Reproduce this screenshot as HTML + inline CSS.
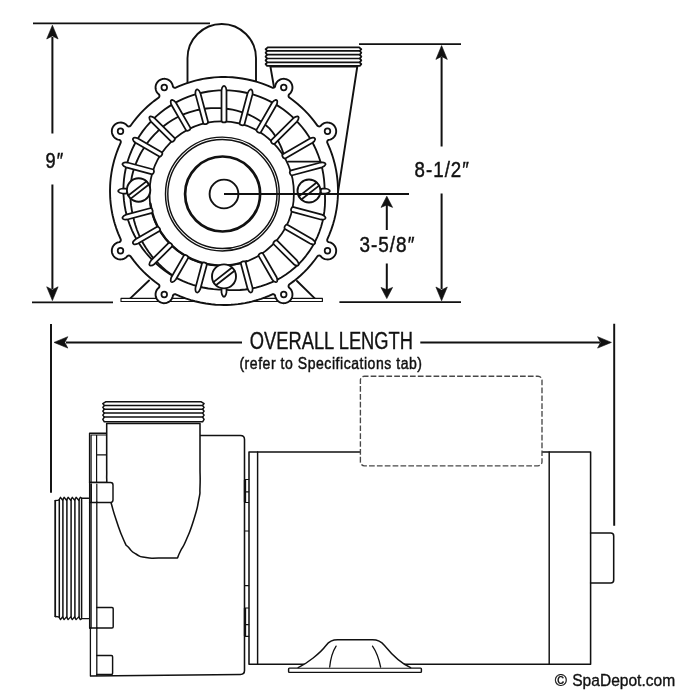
<!DOCTYPE html>
<html lang="en"><head><meta charset="utf-8"><title>Pump dimensions</title>
<style>html,body{margin:0;padding:0;background:#fff}body{width:700px;height:700px;overflow:hidden}svg{display:block;will-change:transform}</style>
</head><body>
<svg width="700" height="700" viewBox="0 0 700 700" font-family="'Liberation Sans', sans-serif" fill="#111">
<rect width="700" height="700" fill="#fff"/>
<g id="front">
<path d="M130,298.6 L149,280.5 M315,298.6 L297,281" fill="none" stroke="#111" stroke-width="1.9" stroke-linecap="round" stroke-linejoin="round"/>
<rect x="121" y="298.4" width="201.4" height="3.1" fill="#fff" stroke="#111" stroke-width="1.15" stroke-linecap="round" stroke-linejoin="round"/>
<path d="M187.5,90 V58.2 A34.25,34.25 0 0 1 256,58.2 V90" fill="#fff" stroke="#111" stroke-width="1.9" stroke-linecap="round" stroke-linejoin="round"/>
<path d="M270.4,66.5 L274.5,90 L338,192 L357.3,66.5 Z" fill="#fff" stroke="#111" stroke-width="1.9" stroke-linecap="round" stroke-linejoin="round"/>
<path d="M358.9,47.3 L361.3,49.1 L359.8,50.9 L361.3,52.8 L359.8,54.7 L361.3,56.6 L359.8,58.5 L361.3,60.4 L359.8,62.3 L361.3,64.1 L359.8,65.9 L267.1,65.9 L265.6,64.1 L267.1,62.3 L265.6,60.4 L267.1,58.5 L265.6,56.6 L267.1,54.7 L265.6,52.8 L267.1,50.9 L265.6,49.1 L268,47.3 Z" fill="#fff" stroke="#111" stroke-width="1.8" stroke-linecap="round" stroke-linejoin="round"/>
<path d="M267.1,50.9 H359.8 M267.1,54.7 H359.8 M267.1,58.5 H359.8 M267.1,62.3 H359.8 " fill="none" stroke="#111" stroke-width="1.7" stroke-linecap="round" stroke-linejoin="round"/>
<path d="M120.64,239.08 L120.82,239.69 L120.82,240.33 L120.54,241.13 L120.15,241.62 L119.43,242.07 L118.01,242.42 L117.16,242.72 L116.39,243.09 L115.35,243.75 L114.65,244.32 L113.77,245.25 L113.06,246.25 L112.63,247.05 L112.18,248.25 L111.91,249.45 L111.82,250.35 L111.85,251.58 L111.98,252.47 L112.31,253.66 L112.66,254.49 L113.26,255.56 L113.8,256.29 L114.65,257.18 L115.35,257.75 L116.39,258.41 L118.01,259.08 L119.21,259.35 L120.11,259.44 L121.34,259.41 L122.18,259.29 L123.06,259.07 L124.21,258.63 L125.67,257.75 L126.37,257.18 L127.51,256.01 L128.26,255.62 L128.89,255.54 L129.51,255.63 L130.08,255.89 L130.41,256.16 L134.12,261.13 L136.77,264.39 L139.54,267.56 L143.39,271.61 L146.42,274.53 L150.6,278.22 L154.97,281.72 L158.69,284.45 L159.11,284.92 L159.37,285.49 L159.45,285.9 L159.38,286.74 L158.99,287.49 L157.82,288.63 L157.25,289.33 L156.59,290.37 L156.22,291.14 L155.92,291.99 L155.65,293.19 L155.56,294.09 L155.6,295.37 L155.8,296.58 L156.2,297.79 L156.77,298.94 L157.51,299.99 L158.12,300.66 L159.09,301.49 L160.17,302.17 L161.29,302.67 L163,303.1 L163.85,303.18 L165.08,303.15 L165.97,303.02 L167.16,302.69 L168.75,301.94 L169.75,301.23 L170.38,300.66 L171.5,299.3 L172.3,297.79 L172.58,296.99 L172.93,295.57 L173.24,295.02 L173.7,294.57 L174.06,294.36 L174.88,294.16 L175.72,294.28 L180.38,296.32 L185.6,298.34 L190.9,300.09 L194.95,301.24 L200.38,302.53 L205.88,303.55 L211.43,304.3 L215.62,304.69 L219.8,304.92 L223.99,305 L226.8,304.97 L230.98,304.79 L233.79,304.58 L237.95,304.14 L240.73,303.77 L244.86,303.08 L248.97,302.23 L251.71,301.58 L255.74,300.49 L258.44,299.67 L261.09,298.8 L265.02,297.36 L268.91,295.78 L272.28,294.28 L272.9,294.16 L273.54,294.22 L273.94,294.36 L274.3,294.57 L274.76,295.02 L275.07,295.57 L275.42,296.99 L275.7,297.79 L276.53,299.35 L277.29,300.31 L277.93,300.95 L278.89,301.71 L279.63,302.15 L280.45,302.54 L281.61,302.92 L282.5,303.1 L283.72,303.19 L284.63,303.14 L285.84,302.94 L286.71,302.67 L287.83,302.17 L288.61,301.71 L289.57,300.95 L290.21,300.31 L291,299.3 L291.6,298.23 L291.95,297.4 L292.28,296.21 L292.41,295.32 L292.44,294.09 L292.35,293.19 L292.08,291.99 L291.78,291.14 L291.41,290.37 L290.75,289.33 L290.18,288.63 L289.01,287.49 L288.62,286.74 L288.54,286.33 L288.58,285.7 L288.79,285.1 L289.16,284.59 L294.13,280.88 L297.39,278.23 L300.56,275.46 L304.61,271.61 L307.53,268.58 L311.22,264.4 L314.72,260.03 L317.45,256.31 L317.92,255.89 L318.29,255.7 L318.9,255.55 L319.53,255.57 L319.94,255.69 L320.49,256.01 L321.63,257.18 L322.63,257.97 L323.75,258.6 L324.94,259.07 L326.66,259.41 L327.89,259.44 L328.79,259.35 L330.04,259.07 L331.23,258.6 L332.3,258 L333.31,257.21 L334.2,256.29 L334.94,255.25 L335.52,254.1 L335.92,252.89 L336.18,251.15 L336.15,249.92 L336.03,249.08 L335.54,247.45 L334.71,245.89 L333.62,244.58 L332.99,244.01 L331.99,243.3 L330.79,242.7 L329.99,242.42 L328.57,242.07 L328.02,241.76 L327.57,241.3 L327.36,240.94 L327.16,240.12 L327.28,239.28 L329.32,234.62 L331.34,229.4 L333.09,224.1 L334.24,220.05 L335.53,214.62 L336.55,209.12 L337.3,203.57 L337.69,199.38 L337.92,195.2 L338,191.01 L337.97,188.2 L337.79,184.02 L337.58,181.21 L337.14,177.05 L336.77,174.27 L336.08,170.14 L335.23,166.03 L334.58,163.29 L333.49,159.26 L332.67,156.56 L331.8,153.91 L330.36,149.98 L328.78,146.09 L327.28,142.72 L327.16,142.1 L327.22,141.46 L327.36,141.06 L327.57,140.7 L328.02,140.24 L328.57,139.93 L329.99,139.58 L330.79,139.3 L332.35,138.47 L333.03,137.96 L333.92,137.11 L334.49,136.41 L335.15,135.37 L335.54,134.55 L335.92,133.39 L336.1,132.5 L336.19,131.28 L336.14,130.37 L335.94,129.16 L335.67,128.29 L335.17,127.17 L334.71,126.39 L333.95,125.43 L333.31,124.79 L332.3,124 L331.23,123.4 L330.4,123.05 L329.21,122.72 L328.32,122.59 L327.09,122.56 L326.19,122.65 L324.99,122.92 L324.14,123.22 L323.37,123.59 L322.33,124.25 L321.63,124.82 L320.49,125.99 L319.74,126.38 L319.11,126.46 L318.7,126.42 L318.1,126.21 L317.59,125.84 L313.88,120.87 L311.23,117.61 L308.46,114.44 L304.61,110.39 L301.58,107.47 L297.4,103.78 L293.03,100.28 L289.31,97.55 L288.89,97.08 L288.63,96.51 L288.55,96.1 L288.57,95.47 L288.69,95.06 L289.01,94.51 L290.18,93.37 L290.97,92.37 L291.6,91.25 L292.07,90.06 L292.41,88.34 L292.44,87.11 L292.35,86.21 L292.07,84.96 L291.6,83.77 L290.97,82.65 L290.18,81.65 L289.29,80.8 L288.25,80.06 L287.1,79.48 L285.89,79.08 L284.2,78.82 L282.45,78.91 L281.25,79.18 L280.45,79.46 L278.89,80.29 L278.21,80.8 L277.32,81.65 L276.3,83.01 L275.7,84.21 L275.42,85.01 L275.07,86.43 L274.76,86.98 L274.47,87.29 L273.94,87.64 L273.12,87.84 L272.28,87.72 L267.62,85.68 L262.4,83.66 L257.1,81.91 L253.05,80.76 L247.62,79.47 L242.12,78.45 L236.57,77.7 L232.38,77.31 L228.2,77.08 L225.39,77.01 L221.21,77.03 L218.4,77.14 L214.23,77.42 L211.43,77.7 L207.28,78.23 L203.14,78.92 L200.38,79.47 L196.31,80.41 L193.59,81.13 L189.56,82.33 L185.6,83.66 L182.98,84.64 L179.09,86.22 L175.72,87.72 L175.1,87.84 L174.67,87.82 L174.06,87.64 L173.7,87.43 L173.24,86.98 L172.93,86.43 L172.58,85.01 L172.3,84.21 L171.47,82.65 L170.71,81.69 L170.07,81.05 L169.11,80.29 L168.37,79.85 L167.55,79.46 L166.39,79.08 L165.5,78.9 L164.28,78.81 L163.37,78.86 L162.16,79.06 L161.29,79.33 L160.17,79.83 L159.09,80.51 L158.39,81.08 L157.54,81.97 L157,82.7 L156.4,83.77 L156.05,84.6 L155.72,85.79 L155.59,86.68 L155.56,87.91 L155.65,88.81 L155.92,90.01 L156.22,90.86 L156.77,91.96 L157.25,92.67 L157.82,93.37 L158.99,94.51 L159.38,95.26 L159.46,95.89 L159.42,96.3 L159.21,96.9 L158.84,97.41 L153.87,101.12 L150.61,103.77 L147.44,106.54 L143.39,110.39 L140.47,113.42 L136.78,117.6 L133.28,121.97 L130.55,125.69 L130.08,126.11 L129.71,126.3 L129.1,126.45 L128.47,126.43 L128.06,126.31 L127.51,125.99 L126.37,124.82 L125.37,124.03 L124.25,123.4 L123.06,122.93 L122.18,122.71 L120.96,122.56 L119.21,122.65 L117.96,122.93 L116.77,123.4 L115.65,124.03 L114.65,124.82 L113.77,125.75 L113.03,126.8 L112.46,127.95 L112.06,129.16 L111.9,130 L111.81,131.22 L111.97,132.92 L112.46,134.55 L113.29,136.11 L113.8,136.79 L114.65,137.68 L116.01,138.7 L117.21,139.3 L118.01,139.58 L119.43,139.93 L119.98,140.24 L120.54,140.87 L120.78,141.46 L120.84,141.88 L120.72,142.72 L118.15,148.68 L117.14,151.29 L115.76,155.23 L114.13,160.59 L112.77,166.03 L112.19,168.77 L111.45,172.88 L110.69,178.44 L110.31,182.61 L110.14,185.4 L110,190.99 L110.14,196.6 L110.31,199.39 L110.69,203.56 L111.45,209.12 L112.19,213.23 L112.77,215.97 L114.13,221.41 L114.91,224.1 L116.2,228.08 L118.15,233.34Z" fill="#fff" stroke="#111" stroke-width="1.9" stroke-linecap="round" stroke-linejoin="round"/>
<circle cx="327.49" cy="131.25" r="2.8" fill="#fff" stroke="#111" stroke-width="1.75" stroke-linecap="round" stroke-linejoin="round"/>
<circle cx="283.75" cy="87.51" r="2.8" fill="#fff" stroke="#111" stroke-width="1.75" stroke-linecap="round" stroke-linejoin="round"/>
<circle cx="164.25" cy="87.51" r="2.8" fill="#fff" stroke="#111" stroke-width="1.75" stroke-linecap="round" stroke-linejoin="round"/>
<circle cx="120.51" cy="131.25" r="2.8" fill="#fff" stroke="#111" stroke-width="1.75" stroke-linecap="round" stroke-linejoin="round"/>
<circle cx="120.51" cy="250.75" r="2.8" fill="#fff" stroke="#111" stroke-width="1.75" stroke-linecap="round" stroke-linejoin="round"/>
<circle cx="164.25" cy="294.49" r="2.8" fill="#fff" stroke="#111" stroke-width="1.75" stroke-linecap="round" stroke-linejoin="round"/>
<circle cx="283.75" cy="294.49" r="2.8" fill="#fff" stroke="#111" stroke-width="1.75" stroke-linecap="round" stroke-linejoin="round"/>
<circle cx="327.49" cy="250.75" r="2.8" fill="#fff" stroke="#111" stroke-width="1.75" stroke-linecap="round" stroke-linejoin="round"/>
<path d="M324.6,190 L324.46,184.78 L324.05,179.58 L323.36,174.4 L322.4,169.27 L321.17,164.2 L319.68,159.19 L317.92,154.27 L315.9,149.45 L313.64,144.74 L311.12,140.15 L308.37,135.7 L305.39,131.4 L302.18,127.26 L298.76,123.29 L295.13,119.5 L291.31,115.91 L287.31,112.52 L283.13,109.34 L278.79,106.38 L274.3,103.66 L269.67,101.17 L264.92,98.92 L260.05,96.92 L255.09,95.18 L250.04,93.7 L244.92,92.48 L239.74,91.53 L234.52,90.85 L229.26,90.44 L224,90.3 L218.74,90.44 L213.48,90.85 L208.26,91.53 L203.08,92.48 L197.96,93.7 L192.91,95.18 L187.95,96.92 L183.08,98.92 L178.33,101.17 L173.7,103.66 L169.21,106.38 L164.87,109.34 L160.69,112.52 L156.69,115.91 L152.87,119.5 L149.24,123.29 L145.82,127.26 L142.61,131.4 L139.63,135.7 L136.88,140.15 L134.36,144.74 L132.1,149.45 L130.08,154.27 L128.32,159.19 L126.83,164.2 L125.6,169.27 L124.64,174.4 L123.95,179.58 L123.54,184.78 L123.4,190 L123.54,195.22 L123.95,200.42 L124.64,205.6 L125.6,210.73 L126.83,215.8 L128.32,220.81 L130.08,225.73 L132.1,230.55 L134.36,235.26 L136.88,239.85 L139.63,244.3 L142.61,248.6 L145.82,252.74 L149.24,256.71 L152.87,260.5 L156.69,264.09 L160.69,267.48 L164.87,270.66 L169.21,273.62 L173.7,276.34 L178.33,278.83 L183.08,281.08 L187.95,283.08 L192.91,284.82 L197.96,286.3 L203.08,287.52 L208.26,288.47 L213.48,289.15 L218.74,289.56 L224,289.7 L229.29,290.09 L234.62,290.19 L239.98,290 L245.34,289.51 L250.68,288.72 L256,287.62 L261.25,286.2 L266.43,284.47 L271.51,282.44 L276.47,280.09 L281.28,277.45 L285.93,274.51 L290.39,271.28 L294.64,267.79 L298.67,264.03 L302.46,260.04 L305.98,255.82 L309.23,251.4 L312.2,246.79 L314.87,242.02 L317.24,237.1 L319.3,232.06 L321.04,226.93 L322.47,221.72 L323.59,216.45 L324.39,211.15 L324.89,205.84 L325.08,200.53 L324.98,195.25 Z" fill="none" stroke="#111" stroke-width="1.85" stroke-linecap="round" stroke-linejoin="round"/>
<path d="M283.13,152.6 L281.84,148.97 L280.34,145.37 L278.62,141.82 L276.68,138.32 L274.53,134.88 L272.16,131.53 L269.47,128.41 L266.4,125.7 L263.18,123.14 L259.8,120.75 L256.27,118.52 L252.61,116.47 L248.8,114.68 L244.87,113.12 L240.84,111.77 L236.73,110.63 L232.55,109.7 L228.3,108.99 L224,108.5 L219.66,108.16 L215.28,108.06 L210.88,108.18 L206.47,108.54 L202.07,109.14 L197.67,109.97 L193.31,111.04 L188.98,112.34 L184.71,113.88 L180.5,115.66 L176.41,117.72 L172.42,120.01 L168.54,122.51 L164.78,125.23 L161.16,128.16 L157.67,131.28 L154.35,134.6 L151.19,138.1 L148.21,141.78 L145.42,145.63 L142.83,149.64 L140.43,153.79 L138.26,158.09 L136.3,162.5 L134.57,167.04 L133.08,171.67 L131.9,176.41 L131.14,181.24 L130.62,186.11 L130.36,191 L130.36,195.91 L130.61,200.82 L131.12,205.71 L131.89,210.58 L132.91,215.41 L133.99,220.25 L135.33,225.04 L136.92,229.77 L138.77,234.43 L140.86,239 L143.24,243.45 L145.85,247.78 L148.69,251.98 L151.77,256.04 L155.06,259.94 L158.56,263.68 L162.26,267.24 L166.16,270.61 L170.24,273.78 L174.5,276.74" fill="none" stroke="#111" stroke-width="1.85" stroke-linecap="round" stroke-linejoin="round"/>
<circle cx="221.7" cy="193.5" r="72.2" fill="none" stroke="#111" stroke-width="1.75" stroke-linecap="round" stroke-linejoin="round"/>
<path d="M150.4,203.52 A72,72 0 0 0 246.33,261.16" fill="none" stroke="#111" stroke-width="2.2" stroke-linecap="round" stroke-linejoin="round"/>
<path d="M288,161.7 H320.5" fill="none" stroke="#111" stroke-width="1.75" stroke-linecap="round" stroke-linejoin="round"/>
<path d="M322.5,193.5 L325.4,193.5 Q328.4,193.12 329.5,191.8 Q330,191 329.5,190.2 Q328.4,188.88 325.4,188.5 L322.5,188.5 C319.9,188.5 319.9,193.5 322.5,193.5 ZM292.46,175.24 L321.92,167.35 Q324.72,166.21 325.44,164.65 Q325.71,163.75 325.02,163.1 Q323.62,162.11 320.62,162.52 L291.17,170.41 C288.66,171.09 289.95,175.92 292.46,175.24 ZM285.74,158.24 L312.46,142.82 Q314.87,140.99 315.16,139.29 Q315.19,138.35 314.36,137.91 Q312.74,137.31 309.96,138.48 L283.24,153.91 C280.99,155.21 283.49,159.54 285.74,158.24 ZM275.06,143.48 L296.97,121.56 Q298.83,119.18 298.67,117.46 Q298.46,116.54 297.54,116.33 Q295.82,116.17 293.44,118.03 L271.52,139.94 C269.68,141.78 273.22,145.32 275.06,143.48 ZM261.06,131.82 L276.52,105.04 Q277.69,102.26 277.09,100.64 Q276.65,99.81 275.71,99.84 Q274.01,100.13 272.18,102.54 L256.73,129.32 C255.43,131.57 259.76,134.07 261.06,131.82 ZM244.55,123.96 L252.48,94.38 Q252.89,91.38 251.9,89.98 Q251.25,89.29 250.35,89.56 Q248.79,90.28 247.65,93.08 L239.72,122.67 C239.05,125.18 243.88,126.47 244.55,123.96 ZM226.5,120.44 L226.5,90.3 Q226.12,87.3 224.8,86.2 Q224,85.7 223.2,86.2 Q221.88,87.3 221.5,90.3 L221.5,120.44 C221.5,123.04 226.5,123.04 226.5,120.44 ZM207.98,121.56 L200.35,93.08 Q199.21,90.28 197.65,89.56 Q196.75,89.29 196.1,89.98 Q195.11,91.38 195.52,94.38 L203.15,122.85 C203.82,125.36 208.65,124.07 207.98,121.56 ZM190.16,127.39 L175.82,102.54 Q173.99,100.13 172.29,99.84 Q171.35,99.81 170.91,100.64 Q170.31,102.26 171.48,105.04 L185.83,129.89 C187.13,132.14 191.46,129.64 190.16,127.39 ZM174.24,137.7 L154.56,118.03 Q152.18,116.17 150.46,116.33 Q149.54,116.54 149.33,117.46 Q149.17,119.18 151.03,121.56 L170.7,141.24 C172.54,143.07 176.07,139.54 174.24,137.7 ZM161.37,151.95 L138.04,138.48 Q135.26,137.31 133.64,137.91 Q132.81,138.35 132.84,139.29 Q133.13,140.99 135.54,142.82 L158.87,156.28 C161.12,157.58 163.62,153.25 161.37,151.95 ZM152.58,169.27 L127.38,162.52 Q124.38,162.11 122.98,163.1 Q122.29,163.75 122.56,164.65 Q123.28,166.21 126.08,167.35 L151.28,174.1 C153.8,174.78 155.09,169.95 152.58,169.27 ZM125.5,188.5 L122.6,188.5 Q119.6,188.88 118.5,190.2 Q118,191 118.5,191.8 Q119.6,193.12 122.6,193.5 L125.5,193.5 C128.1,193.5 128.1,188.5 125.5,188.5 ZM150,208.24 L126.08,214.65 Q123.28,215.79 122.56,217.35 Q122.29,218.25 122.98,218.9 Q124.38,219.89 127.38,219.48 L151.29,213.07 C153.8,212.4 152.51,207.57 150,208.24 ZM156.64,227 L135.54,239.18 Q133.13,241.01 132.84,242.71 Q132.81,243.65 133.64,244.09 Q135.26,244.69 138.04,243.52 L159.14,231.33 C161.39,230.03 158.89,225.7 156.64,227 ZM168.14,243.32 L151.03,260.44 Q149.17,262.82 149.33,264.54 Q149.54,265.46 150.46,265.67 Q152.18,265.83 154.56,263.97 L171.68,246.86 C173.52,245.02 169.98,241.48 168.14,243.32 ZM183.63,255.92 L171.48,276.96 Q170.31,279.74 170.91,281.36 Q171.35,282.19 172.29,282.16 Q173.99,281.87 175.82,279.46 L187.96,258.42 C189.26,256.17 184.93,253.67 183.63,255.92 ZM201.89,263.85 L195.52,287.62 Q195.11,290.62 196.1,292.02 Q196.75,292.71 197.65,292.44 Q199.21,291.72 200.35,288.92 L206.72,265.15 C207.39,262.64 202.56,261.34 201.89,263.85 ZM221.5,289.5 L221.5,292.4 Q221.87,295.4 223.2,296.5 Q224,297 224.8,296.5 Q226.12,295.4 226.5,292.4 L226.5,289.5 C226.5,286.9 221.5,286.9 221.5,289.5 ZM240.96,263.96 L247.65,288.92 Q248.79,291.72 250.35,292.44 Q251.25,292.71 251.9,292.02 Q252.89,290.62 252.48,287.62 L245.79,262.66 C245.12,260.15 240.29,261.45 240.96,263.96 ZM258.86,256.37 L272.18,279.46 Q274.01,281.87 275.71,282.16 Q276.65,282.19 277.09,281.36 Q277.69,279.74 276.52,276.96 L263.19,253.87 C261.89,251.62 257.56,254.12 258.86,256.37 ZM273.96,244.5 L293.44,263.97 Q295.82,265.83 297.54,265.67 Q298.46,265.46 298.67,264.54 Q298.83,262.82 296.97,260.44 L277.5,240.96 C275.66,239.13 272.13,242.66 273.96,244.5 ZM285.35,229.31 L309.96,243.52 Q312.74,244.69 314.36,244.09 Q315.19,243.65 315.16,242.71 Q314.87,241.01 312.46,239.18 L287.85,224.98 C285.59,223.68 283.09,228.01 285.35,229.31 ZM292.38,211.91 L320.62,219.48 Q323.62,219.89 325.02,218.9 Q325.71,218.25 325.44,217.35 Q324.72,215.79 321.92,214.65 L293.67,207.08 C291.16,206.41 289.87,211.24 292.38,211.91 Z" fill="#fff" stroke="#111" stroke-width="1.75" stroke-linecap="round" stroke-linejoin="round"/>
<circle cx="138.6" cy="190" r="11.7" fill="#fff" stroke="#111" stroke-width="1.9" stroke-linecap="round" stroke-linejoin="round"/><path d="M128.28,195.52 L146.45,181.33 M130.75,198.67 L148.92,184.48 " fill="none" stroke="#111" stroke-width="1.75" stroke-linecap="round" stroke-linejoin="round"/>
<circle cx="309" cy="191" r="11.5" fill="#fff" stroke="#111" stroke-width="1.9" stroke-linecap="round" stroke-linejoin="round"/><path d="M298.84,196.4 L316.69,182.45 M301.31,199.55 L319.16,185.6 " fill="none" stroke="#111" stroke-width="1.75" stroke-linecap="round" stroke-linejoin="round"/>
<circle cx="224" cy="276.4" r="12" fill="#fff" stroke="#111" stroke-width="1.9" stroke-linecap="round" stroke-linejoin="round"/><path d="M213.44,282.11 L232.09,267.54 M215.91,285.26 L234.56,270.69 " fill="none" stroke="#111" stroke-width="1.75" stroke-linecap="round" stroke-linejoin="round"/>
<circle cx="222.4" cy="194" r="56.9" fill="none" stroke="#111" stroke-width="1.45" stroke-linecap="round" stroke-linejoin="round"/>
<circle cx="222.4" cy="194" r="54.6" fill="none" stroke="#111" stroke-width="1.45" stroke-linecap="round" stroke-linejoin="round"/>
<circle cx="222.6" cy="194" r="37.5" fill="none" stroke="#111" stroke-width="2.7" stroke-linecap="round" stroke-linejoin="round"/>
<circle cx="224" cy="194" r="14.4" fill="none" stroke="#111" stroke-width="1.9" stroke-linecap="round" stroke-linejoin="round"/>
</g>
<g id="side">
<rect x="249" y="452" width="341.6" height="212.2" fill="#fff" stroke="#111" stroke-width="1.55" stroke-linecap="round" stroke-linejoin="round"/>
<path d="M257.6,452 V664 M549.2,452 V664" fill="none" stroke="#111" stroke-width="1.45" stroke-linecap="round" stroke-linejoin="round"/>
<path d="M590.6,533 H610.7 Q613.7,533 613.7,536 V580 Q613.7,583 610.7,583 H590.6" fill="none" stroke="#111" stroke-width="1.55" stroke-linecap="round" stroke-linejoin="round"/>
<rect x="360.4" y="376.2" width="181.6" height="89.6" rx="4" fill="#fff" stroke="#484848" stroke-width="1.35" stroke-dasharray="5.7 2.16" stroke-dashoffset="1.6"/>
<rect x="288.6" y="668.1" width="132.8" height="4.3" rx="0.8" fill="#fff" stroke="#111" stroke-width="1.45" stroke-linecap="round" stroke-linejoin="round"/>
<path d="M298.2,667.6 C307,663.4 320,653.5 326,645.5 C329,641.5 332,639.8 337.5,639.8 H372.5 C378,639.8 381,641.3 384.5,645.5 C391,653.5 401,663.4 410.6,667.6" fill="#fff" stroke="#111" stroke-width="1.45" stroke-linecap="round" stroke-linejoin="round"/>
<path d="M336.1,646.1 Q331,654 329.7,667 M372.5,646.1 Q378,654 380.6,667" fill="none" stroke="#111" stroke-width="1.3" stroke-linecap="round" stroke-linejoin="round"/>
<path d="M97,435.5 H240.5 Q244.5,435.5 244.5,439.5 V670.5 Q244.5,674.3 240.5,674.4 L91,676 " fill="#fff" stroke="#111" stroke-width="1.55" stroke-linecap="round" stroke-linejoin="round"/>
<path d="M244.5,479.5 H248.6 M244.5,491.8 H248.6 M244.5,502.5 H248.6 M244.5,531 H248.6 M244.5,585.7 H248.6 M244.5,608 H248.6 M244.5,624.6 H248.6 M244.5,636.4 H248.6" fill="none" stroke="#111" stroke-width="1.2" stroke-linecap="round" stroke-linejoin="round"/>
<path d="M245,480 V502 M245,608 V636" fill="none" stroke="#111" stroke-width="2.3"/>
<path d="M89.6,433.3 H106.7 V482.5 H89.6 Z" fill="#fff" stroke="#111" stroke-width="1.45" stroke-linecap="round" stroke-linejoin="round"/>
<path d="M91.1,435 H106.7 M96.6,435 V482.5 M96.6,454.8 H106.7 M91.1,435 V482" fill="none" stroke="#111" stroke-width="1.2" stroke-linecap="round" stroke-linejoin="round"/>
<path d="M55.3,500.6 V616.5 M81.6,498.3 H88.6 M81.6,618.6 H88.6" fill="none" stroke="#111" stroke-width="1.45" stroke-linecap="round" stroke-linejoin="round"/>
<path d="M55.3,500.6 V616.5 M59.3,499.5 V617.5 M62.9,499.5 V617.5 M66.9,499.5 V617.5 M71.1,499.5 V617.5 M74.9,499.5 V617.5 M79.1,499.5 V617.5 M81.6,499.5 V617.5 " fill="none" stroke="#111" stroke-width="1.5" stroke-linecap="round" stroke-linejoin="round"/>
<path d="M55.3,500.6 L58.9,500.2 L60.5,497.3 L62.5,500.2 L64.1,497.3 L66.5,500.2 L68.1,497.3 L70.7,500.2 L72.3,497.3 L74.5,500.2 L76.1,497.3 L78.7,500.2 L80.3,497.3 L81.6,498.3 M55.3,616.5 L58.9,616.9 L60.5,619.6 L62.5,616.9 L64.1,619.6 L66.5,616.9 L68.1,619.6 L70.7,616.9 L72.3,619.6 L74.5,616.9 L76.1,619.6 L78.7,616.9 L80.3,619.6 L81.6,618.6" fill="none" stroke="#111" stroke-width="1.35" stroke-linecap="round" stroke-linejoin="round"/>
<path d="M106.7,423.5 V470 C106.97,476.67 106.07,479.17 107.5,490 C108.93,500.83 108.1,492.5 111,502.5 C113.9,512.5 111.97,507.5 116.2,520 C120.43,532.5 119.53,530.83 123.7,540 C127.87,549.17 124.6,542.83 128.7,547.5 C132.8,552.17 130.23,550.63 136,554 C141.77,557.37 138,556.27 146,557.6 C154,558.93 149.5,557.87 160,558 C170.5,558.13 171.67,558 177.5,558 C178.5,555.67 177.6,557 180.5,551 C183.4,545 181.8,550.33 186.2,540 C190.6,529.67 189.53,533.33 193.7,520 C197.87,506.67 196.6,511 198.7,500 C200.8,489 199.57,497 200,487 C200.43,477 200,475.67 200,470 V423.5 Z" fill="#fff" stroke="#111" stroke-width="1.55" stroke-linecap="round" stroke-linejoin="round"/>
<path d="M201.3,401.8 L204.1,403.65 L202.6,405.5 L204.1,407.35 L202.6,409.2 L204.1,411.15 L202.6,413.1 L204.1,415.1 L202.6,417.1 L204.1,419.45 L202.6,421.8 L104.3,421.8 L102.8,419.45 L104.3,417.1 L102.8,415.1 L104.3,413.1 L102.8,411.15 L104.3,409.2 L102.8,407.35 L104.3,405.5 L102.8,403.65 L105.6,401.8 Z" fill="#fff" stroke="#111" stroke-width="1.5" stroke-linecap="round" stroke-linejoin="round"/>
<path d="M104.3,405.5 H202.6 M104.3,409.2 H202.6 M104.3,413.1 H202.6 M104.3,417.1 H202.6 " fill="none" stroke="#111" stroke-width="1.5" stroke-linecap="round" stroke-linejoin="round"/>
<path d="M89.6,482.5 H110.6 Q113,482.5 113,484.9 V500 Q113,502.4 110.6,502.4 H89.6" fill="#fff" stroke="#111" stroke-width="1.45" stroke-linecap="round" stroke-linejoin="round"/>
<path d="M91.3,484 V502 M96.8,484 V502" fill="none" stroke="#111" stroke-width="1.2" stroke-linecap="round" stroke-linejoin="round"/>
<path d="M96.8,607.5 H112 Q113.2,607.5 113.2,608.7 V626.8 Q113.2,628 112,628 H96.8" fill="#fff" stroke="#111" stroke-width="1.45" stroke-linecap="round" stroke-linejoin="round"/>
<path d="M89.6,628 H97" fill="none" stroke="#111" stroke-width="1.3" stroke-linecap="round" stroke-linejoin="round"/>
<path d="M96.8,655.5 H111.4 Q112.6,655.5 112.6,656.7 V673.3 Q112.6,674.5 111.4,674.5 H96.8" fill="#fff" stroke="#111" stroke-width="1.45" stroke-linecap="round" stroke-linejoin="round"/>
<path d="M96.8,502 V675.5" fill="none" stroke="#111" stroke-width="1.3" stroke-linecap="round" stroke-linejoin="round"/>
<path d="M89.6,482.5 V628 M91.1,484 V628 M90.4,628 V676" fill="none" stroke="#111" stroke-width="1.3" stroke-linecap="round" stroke-linejoin="round"/>
</g>
<g id="dims">
<path d="M33,23.4 H210 M32,302.4 H113" fill="none" stroke="#111" stroke-width="1.75"/>
<path d="M52.4,37 V133.6 M52.4,184.4 V289" fill="none" stroke="#111" stroke-width="2"/>
<path d="M52.4,25.2 L46.7,39 L52.4,36 L58.1,39 Z" fill="#111" stroke="#111" stroke-width="0.6" stroke-linejoin="round"/>
<path d="M52.4,300.6 L46.7,286.8 L52.4,289.8 L58.1,286.8 Z" fill="#111" stroke="#111" stroke-width="0.6" stroke-linejoin="round"/>
<path d="M359,44 H461 M339.4,302.2 H461" fill="none" stroke="#111" stroke-width="1.75"/>
<path d="M441.6,57 V146.4 M441.6,193.6 V289" fill="none" stroke="#111" stroke-width="2"/>
<path d="M441.6,45.6 L435.9,59.4 L441.6,56.4 L447.3,59.4 Z" fill="#111" stroke="#111" stroke-width="0.6" stroke-linejoin="round"/>
<path d="M441.6,300.8 L435.9,287 L441.6,290 L447.3,287 Z" fill="#111" stroke="#111" stroke-width="0.6" stroke-linejoin="round"/>
<path d="M224,194 H409" fill="none" stroke="#111" stroke-width="1.9"/>
<path d="M386.8,205 V230 M386.8,263.6 V290" fill="none" stroke="#111" stroke-width="2"/>
<path d="M386.8,196.2 L381,207.4 L386.8,205 L392.6,207.4 Z" fill="#111" stroke="#111" stroke-width="0.6" stroke-linejoin="round"/>
<path d="M386.8,298.6 L381,287.4 L386.8,289.8 L392.6,287.4 Z" fill="#111" stroke="#111" stroke-width="0.6" stroke-linejoin="round"/>
<path d="M51,324 V492.8 M614.2,323.7 V525.7" fill="none" stroke="#111" stroke-width="1.95"/>
<path d="M66,342.4 H242 M420.3,342.4 H600" fill="none" stroke="#111" stroke-width="2"/>
<path d="M54,342.4 L67.8,336.7 L64.8,342.4 L67.8,348.1 Z" fill="#111" stroke="#111" stroke-width="0.6" stroke-linejoin="round"/>
<path d="M611.4,342.4 L597.6,336.7 L600.6,342.4 L597.6,348.1 Z" fill="#111" stroke="#111" stroke-width="0.6" stroke-linejoin="round"/>
<text x="45.6" y="168.0" font-size="22" textLength="18.6" lengthAdjust="spacingAndGlyphs" stroke="#111" stroke-width="0.45" letter-spacing="1.2">9″</text>
<text x="414.6" y="177.1" font-size="22" textLength="55.3" lengthAdjust="spacingAndGlyphs" stroke="#111" stroke-width="0.45" letter-spacing="1.2">8-1/2″</text>
<text x="359.4" y="252.1" font-size="22" textLength="56" lengthAdjust="spacingAndGlyphs" stroke="#111" stroke-width="0.45" letter-spacing="1.2">3-5/8″</text>
<text x="249.8" y="348.9" font-size="23" textLength="163.2" lengthAdjust="spacingAndGlyphs" stroke="#111" stroke-width="0.35">OVERALL LENGTH</text>
<text x="239.4" y="368.8" font-size="15.6" textLength="183.2" lengthAdjust="spacingAndGlyphs" stroke="#111" stroke-width="0.45" letter-spacing="0.6">(refer to Specifications tab)</text>
<text y="685.7" stroke="#111" stroke-width="0.35"><tspan x="554.8" font-size="16.2" textLength="12.2" lengthAdjust="spacingAndGlyphs">©</tspan> <tspan x="572.2" font-size="16.8" textLength="103" lengthAdjust="spacingAndGlyphs">SpaDepot.com</tspan></text>
</g>
</svg>
</body></html>
